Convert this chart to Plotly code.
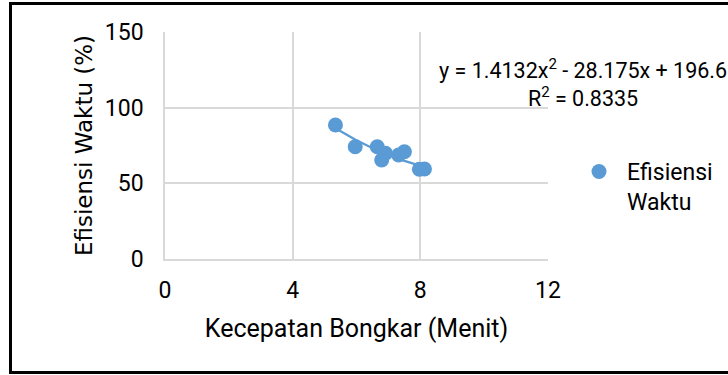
import numpy as np
import plotly.graph_objects as go

# Data
kecepatan = [5.34, 5.96, 6.65, 6.91, 6.79, 7.32, 7.50, 7.97, 8.13]
efisiensi = [88.5, 74.2, 74.2, 69.9, 65.4, 68.7, 70.9, 59.3, 59.5]
series_name = "Efisiensi<br>Waktu"

# Polynomial trendline coefficients as labelled on the chart
coef_a, coef_b, coef_c = 1.4132, -28.175, 196.6
r_squared = 0.8335

x_ticks = [0, 4, 8, 12]
y_ticks = [0, 50, 100, 150]

blue = "#5B9BD5"
grid = "#D9D9D9"
font_main = "Roboto"

xt = np.linspace(min(kecepatan), max(kecepatan), 60)
yt = coef_a * xt**2 + coef_b * xt + coef_c

fig = go.Figure()
fig.add_trace(go.Scatter(x=xt, y=yt, mode="lines", line=dict(color=blue, width=2.2),
                         showlegend=False, hoverinfo="skip"))
fig.add_trace(go.Scatter(x=kecepatan, y=efisiensi, mode="markers", name=series_name,
                         marker=dict(color=blue, size=15)))

# plot-area geometry in pixels
W, H = 728, 375
L, R, T, B = 165, 548, 32, 259
pw, ph = R - L, B - T

def px(x):
    return (x - L) / pw

def py(y):
    return (B - y) / ph

fig.update_layout(
    width=W, height=H,
    margin=dict(l=L, r=W - R, t=T, b=H - B, pad=0, autoexpand=False),
    paper_bgcolor="white", plot_bgcolor="white",
    font=dict(family=font_main, size=23, color="#000000"),
    xaxis=dict(range=[0, 12], tickvals=x_ticks, showgrid=True, gridcolor=grid, gridwidth=1.5,
               showline=True, linecolor=grid, linewidth=1.5, zeroline=False,
               ticks="outside", ticklen=10, tickcolor="rgba(0,0,0,0)",
               tickfont=dict(family=font_main, size=23),
               title=dict(text="Kecepatan Bongkar (Menit)", font=dict(family=font_main, size=25), standoff=16)),
    yaxis=dict(range=[0, 150], tickvals=y_ticks, showgrid=True, gridcolor=grid, gridwidth=1.5,
               showline=True, linecolor=grid, linewidth=1.5, zeroline=False,
               ticks="outside", ticklen=15, tickcolor="rgba(0,0,0,0)",
               tickfont=dict(family=font_main, size=23),
               title=dict(text="Efisiensi Waktu (%)", font=dict(family="DejaVu Sans", size=23), standoff=6)),
    legend=dict(x=px(571), y=py(150), xanchor="left", yanchor="top", bgcolor="rgba(0,0,0,0)",
                font=dict(family=font_main, size=23), itemsizing="trace", itemwidth=46,
                valign="top"),
    showlegend=True,
)

fig.add_annotation(xref="paper", yref="paper", x=px(583), y=py(113), xanchor="center", yanchor="bottom",
                   text=f"y = {coef_a}x<sup>2</sup> - {abs(coef_b)}x + {coef_c}<br>R<sup>2</sup> = {r_squared}",
                   showarrow=False, align="center", font=dict(family=font_main, size=21.5))

fig.add_shape(type="rect", xref="paper", yref="paper",
              x0=px(10.5), x1=px(740), y0=py(372.5), y1=py(3.5),
              line=dict(color="black", width=3), fillcolor="rgba(0,0,0,0)", layer="above")

fig.write_html("out.html", config={"displayModeBar": False},
               post_script="document.body.style.margin='0';document.body.style.overflow='hidden';")
